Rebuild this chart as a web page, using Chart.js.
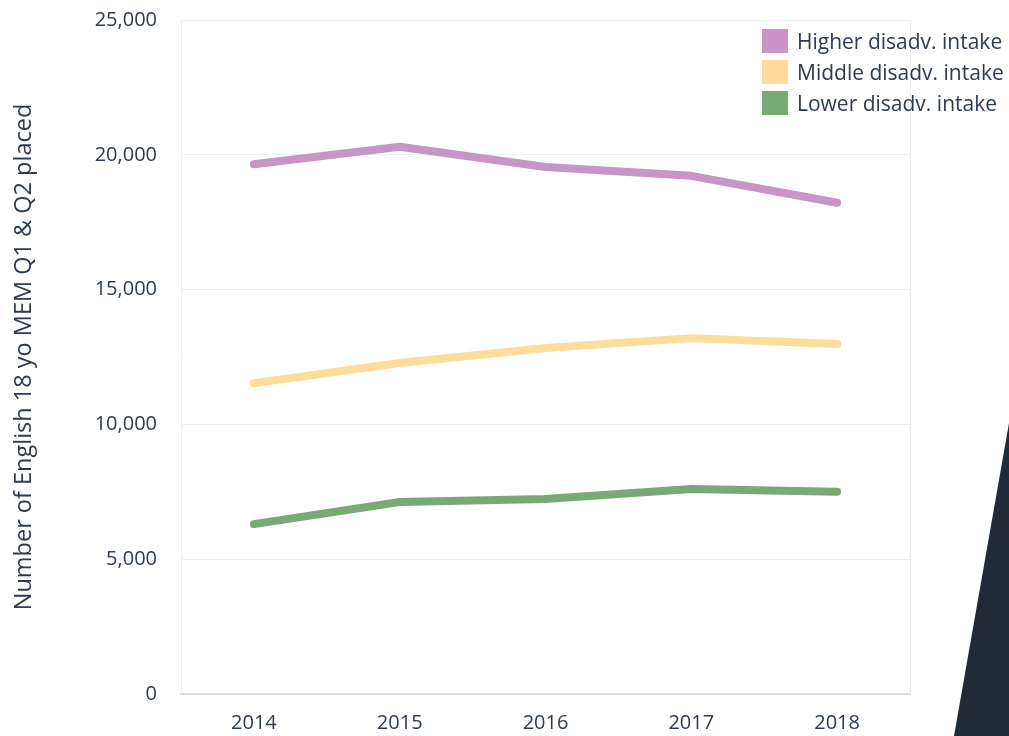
<!DOCTYPE html>
<html>
<head>
<meta charset="utf-8">
<script src="https://cdn.jsdelivr.net/npm/chart.js@4/dist/chart.umd.min.js"></script>
<style>
  html, body { margin: 0; padding: 0; background: #fff; }
  #wrap { position: relative; width: 1009px; height: 736px; overflow: hidden; }
  #legend { position: absolute; left: 762px; top: 25px; font-family: 'Open Sans', sans-serif; font-size: 21px; color: #2d3b4f; }
  .item { display: flex; align-items: center; height: 31px; }
  .swatch { width: 26px; height: 24px; margin-right: 9px; flex: none; }
  #shape { position: absolute; left: 954px; top: 423px; width: 55px; height: 313px; background: #212b38;
           clip-path: polygon(100% 0, 100% 100%, 0 100%); }
</style>
</head>
<body>
<div id="wrap">
  <canvas id="chart" width="1009" height="736"></canvas>
  <div id="legend"></div>
  <div id="shape"></div>
</div>
<script>
const years = ['2014', '2015', '2016', '2017', '2018'];
const higher = [19650, 20300, 19550, 19220, 18220];
const middle = [11530, 12280, 12830, 13200, 12980];
const lower = [6300, 7120, 7230, 7600, 7500];
const seriesNames = ['Higher disadv. intake', 'Middle disadv. intake', 'Lower disadv. intake'];
const seriesColors = ['#c994c7', '#fddc9c', '#78ab73'];

const textColor = '#2d3b4f';
const tickFont = { family: "'Open Sans', sans-serif", size: 20 };
const titleFont = { family: "'Open Sans', sans-serif", size: 23.5 };

// Right border of the plot area
const edgePlugin = {
    id: 'edge',
    beforeDatasetsDraw(chart) {
        const { ctx, chartArea } = chart;
        ctx.save();
        ctx.strokeStyle = '#eeeeee';
        ctx.lineWidth = 1;
        ctx.beginPath();
        ctx.moveTo(chartArea.right + 0.5, chartArea.top);
        ctx.lineTo(chartArea.right + 0.5, chartArea.bottom);
        ctx.stroke();
        ctx.restore();
    }
};

const ctx = document.getElementById('chart').getContext('2d');
const chart = new Chart(ctx, {
    type: 'line',
    data: {
        labels: years,
        datasets: [higher, middle, lower].map((d, i) => ({
            label: seriesNames[i],
            data: d,
            borderColor: seriesColors[i],
            backgroundColor: seriesColors[i],
            borderWidth: 8,
            borderCapStyle: 'round',
            borderJoinStyle: 'round',
            tension: 0,
            pointRadius: 0
        }))
    },
    options: {
        responsive: false,
        animation: false,
        layout: { padding: { left: 0, top: 20, right: 99, bottom: 0 } },
        scales: {
            x: {
                offset: true,
                grid: { display: false, drawTicks: false },
                border: { color: '#d8dee7', width: 2 },
                ticks: { color: textColor, font: tickFont, padding: 17 },
                afterFit: (s) => { s.height = 42; }
            },
            y: {
                min: 0,
                max: 25000,
                ticks: { stepSize: 5000, color: textColor, font: tickFont, padding: 24 },
                grid: { color: '#eeeeee', drawTicks: false },
                border: { color: '#eeeeee' },
                title: {
                    display: true,
                    text: 'Number of English 18 yo MEM Q1 & Q2 placed',
                    color: textColor,
                    font: titleFont,
                    padding: { top: 10, bottom: 0 }
                },
                afterFit: (s) => {
                    s.width = 181;
                    s.paddingTop = 0;
                    s.paddingBottom = 0;
                }
            }
        },
        plugins: {
            legend: { display: false },
            tooltip: { enabled: false }
        }
    },
    plugins: [edgePlugin]
});

// nudge plot top to y=20 if the layout added extra room
const extra = chart.chartArea.top - 20;
if (extra !== 0) {
    chart.options.layout.padding.top = 20 - extra;
    chart.update();
}

// HTML legend
const legendEl = document.getElementById('legend');
seriesNames.forEach((name, i) => {
    const row = document.createElement('div');
    row.className = 'item';
    row.innerHTML = `<span class="swatch" style="background:${seriesColors[i]}"></span><span>${name}</span>`;
    legendEl.appendChild(row);
});
</script>
</body>
</html>
